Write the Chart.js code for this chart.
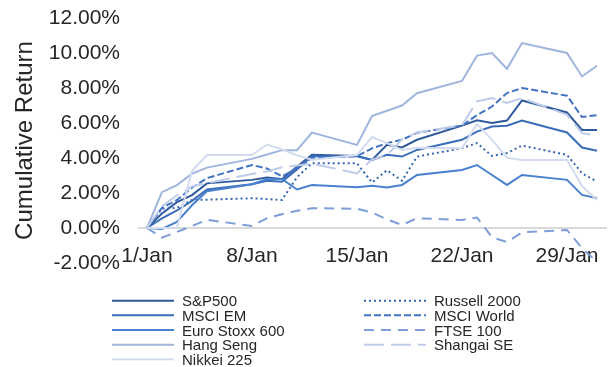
<!DOCTYPE html>
<html>
<head>
<meta charset="utf-8">
<script src="https://cdn.jsdelivr.net/npm/chart.js@4"></script>
<style>
  html, body { margin: 0; padding: 0; background: #fff; }
  #wrap { position: relative; width: 616px; height: 367px; }
</style>
</head>
<body>
<div id="wrap"><canvas id="chart"></canvas></div>
<script>
// Trading days of January (day of month)
const days = [1, 2, 3, 4, 5, 8, 9, 10, 11, 12, 15, 16, 17, 18, 19, 22, 23, 24, 25, 26, 29, 30, 31];
const tickDays = [1, 8, 15, 22, 29];
const tickLabels = ['1/Jan', '8/Jan', '15/Jan', '22/Jan', '29/Jan'];

// Cumulative return, %
const sp500      = [0, 0.83, 1.48, 1.88, 2.55, 2.75, 2.88, 2.8, 3.5, 4.18, 4.12, 3.89, 4.75, 4.6, 5.04, 5.85, 6.15, 6.0, 6.14, 7.29, 6.6, 5.6, 5.6];
const russell    = [0, 1.1, 1.15, 1.6, 1.62, 1.7, 1.65, 1.6, 2.9, 3.7, 3.7, 2.6, 3.3, 2.7, 4.08, 4.56, 4.85, 4.12, 4.28, 4.71, 4.18, 3.13, 2.65];
const msciEm     = [0, 0.55, 1.0, 1.55, 2.2, 2.5, 2.7, 2.65, 3.35, 4.1, 4.1, 3.89, 4.18, 4.08, 4.46, 5.04, 5.51, 5.8, 5.84, 6.14, 5.46, 4.6, 4.42];
const msciWorld  = [0, 1.15, 1.6, 2.3, 2.85, 3.6, 3.4, 2.95, 3.4, 4.0, 4.1, 4.55, 4.85, 5.04, 5.44, 5.85, 6.45, 6.94, 7.71, 8.0, 7.56, 6.34, 6.45];
const euroStoxx  = [0, -0.05, 0.35, 1.3, 2.1, 2.5, 2.8, 2.8, 2.2, 2.46, 2.33, 2.42, 2.31, 2.46, 3.03, 3.32, 3.6, 3.03, 2.46, 3.03, 2.75, 1.89, 1.7];
const ftse100    = [0, -0.55, -0.22, 0.11, 0.47, 0.11, 0.56, 0.79, 0.98, 1.13, 1.1, 0.89, 0.49, 0.17, 0.56, 0.46, 0.6, -0.53, -0.8, -0.25, -0.11, -1.16, -1.93];
const hangSeng   = [0, 2.05, 2.45, 3.1, 3.45, 3.95, 4.2, 4.45, 4.45, 5.45, 4.75, 6.4, 6.7, 7.0, 7.7, 8.4, 9.85, 10.0, 9.1, 10.57, 10.0, 8.66, 9.27];
const shanghai   = [0, 1.24, 1.87, 2.37, 2.56, 3.09, 3.23, 3.47, 3.57, 3.68, 3.12, 3.91, 4.16, 5.07, 5.46, 5.87, 7.24, 7.42, 7.14, 7.42, 6.47, 5.42, 5.27];
const nikkei     = [0, 0, 0, 3.26, 4.17, 4.17, 4.77, 4.5, 4.15, 3.9, 4.17, 5.2, 4.85, 4.46, 4.58, 4.56, 5.94, 5.04, 4.02, 3.89, 3.89, 2.4, 1.6];

// legend is laid out row by row: left column / right column
const series = [
    { label: 'S&P500',         values: sp500,     color: '#2f5b9c', dash: [] },
    { label: 'Russell 2000',   values: russell,   color: '#3466ae', dash: [2, 3] },
    { label: 'MSCI EM',        values: msciEm,    color: '#3a6db8', dash: [] },
    { label: 'MSCI World',     values: msciWorld, color: '#4274c2', dash: [7, 3] },
    { label: 'Euro Stoxx 600', values: euroStoxx, color: '#4a81cf', dash: [] },
    { label: 'FTSE 100',       values: ftse100,   color: '#7e9ed7', dash: [10, 7] },
    { label: 'Hang Seng',      values: hangSeng,  color: '#a0b5de', dash: [] },
    { label: 'Shangai SE',     values: shanghai,  color: '#bfcce9', dash: [20, 7] },
    { label: 'Nikkei 225',     values: nikkei,    color: '#d3dcef', dash: [] }
];

const textColor = '#262626';
Chart.defaults.font.family = "'Liberation Sans', Arial, sans-serif";

// two-column legend under the plot
const columnLegend = {
    id: 'columnLegend',
    afterDraw(chart, args, opts) {
        const ctx = chart.ctx;
        ctx.save();
        ctx.font = opts.font;
        ctx.textBaseline = 'middle';
        chart.data.datasets.forEach((ds, i) => {
            const col = i % 2;
            const row = Math.floor(i / 2);
            const x = opts.colX[col];
            const y = opts.top + row * opts.rowHeight;
            ctx.beginPath();
            ctx.setLineDash(ds.borderDash || []);
            ctx.strokeStyle = ds.borderColor;
            ctx.lineWidth = ds.borderWidth;
            ctx.moveTo(x, y);
            ctx.lineTo(x + opts.sampleWidth, y);
            ctx.stroke();
            ctx.setLineDash([]);
            ctx.fillStyle = opts.color;
            ctx.fillText(ds.label, x + opts.sampleWidth + opts.gap, y + 1.5);
        });
        ctx.restore();
    }
};

new Chart(document.getElementById('chart'), {
    type: 'line',
    data: {
        datasets: series.map((s, i) => ({
            label: s.label,
            data: s.values.map((v, k) => ({ x: days[k], y: v })),
            borderColor: s.color,
            borderDash: s.dash,
            borderWidth: 2,
            borderCapStyle: 'butt',
            pointRadius: 0,
            tension: 0,
            fill: false,
            order: -i
        }))
    },
    options: {
        responsive: true,
        maintainAspectRatio: false,
        animation: false,
        layout: { padding: { left: 11, right: 10, top: 18, bottom: 104 } },
        plugins: {
            legend: { display: false },
            tooltip: { enabled: false },
            columnLegend: {
                font: "15px 'Liberation Sans', Arial, sans-serif",
                color: textColor,
                colX: [112, 364],
                top: 300.7,
                rowHeight: 14.65,
                sampleWidth: 62,
                gap: 8
            }
        },
        scales: {
            x: {
                type: 'linear',
                min: 0.47,
                max: 31.6,
                position: { y: 0 },
                grid: { display: false, drawTicks: false },
                border: { display: true, color: '#d9d9d9', width: 2 },
                afterBuildTicks: (scale) => { scale.ticks = tickDays.map(v => ({ value: v })); },
                afterFit: (scale) => { scale.height = 0; },
                ticks: {
                    padding: 16,
                    color: textColor,
                    font: { size: 21 },
                    maxRotation: 0,
                    autoSkip: false,
                    callback: (v) => tickLabels[tickDays.indexOf(v)]
                }
            },
            y: {
                min: -2,
                max: 12,
                grid: { display: false, drawTicks: true, tickLength: 19 },
                border: { display: false },
                afterFit: (scale) => { scale.width = 128; },
                ticks: {
                    stepSize: 2,
                    padding: 0,
                    color: textColor,
                    font: { size: 21 },
                    callback: (v) => v.toFixed(2) + '%'
                },
                title: {
                    display: true,
                    text: 'Cumulative Return',
                    color: textColor,
                    font: { size: 24 },
                    padding: 0
                }
            }
        }
    },
    plugins: [columnLegend]
});
</script>
</body>
</html>
